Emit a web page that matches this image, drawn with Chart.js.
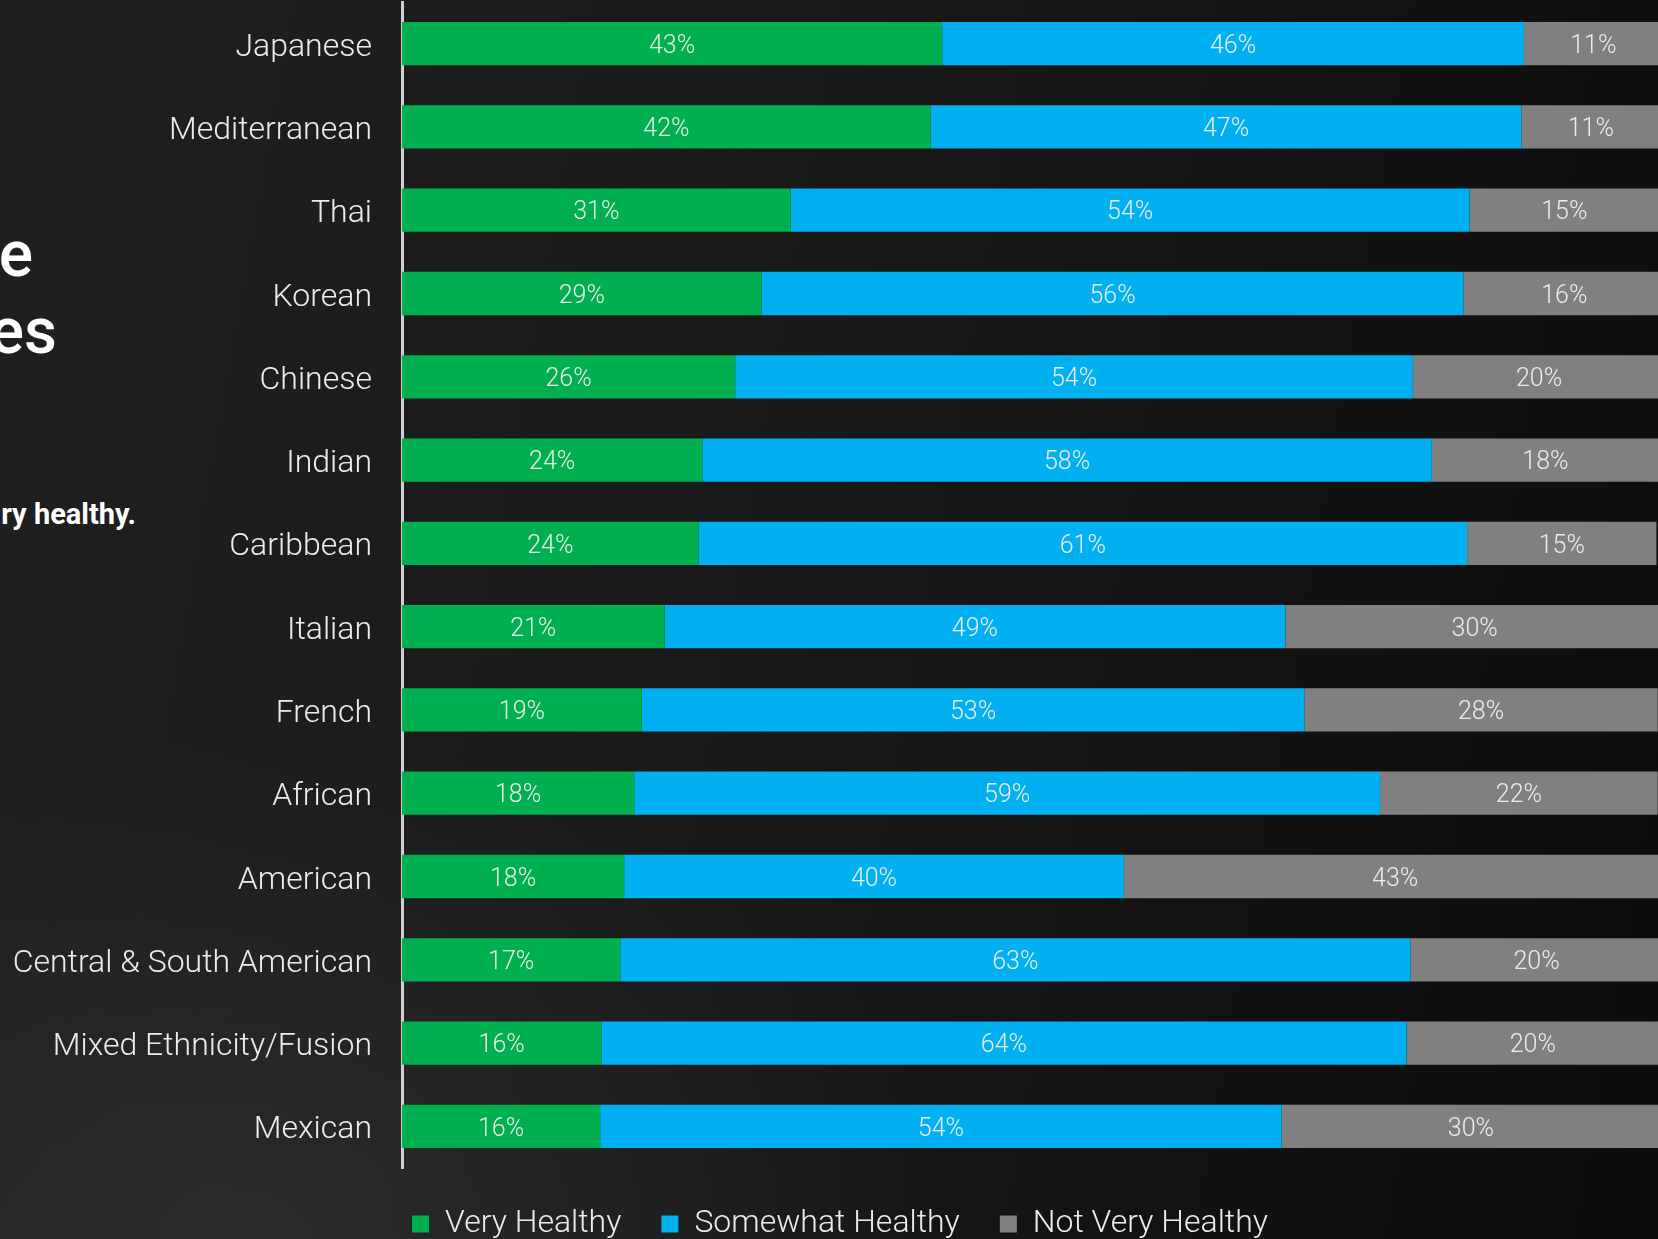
<!DOCTYPE html>
<html lang="en">
<head>
  <meta charset="UTF-8">
  <title>Cuisine healthiness</title>
  <script src="https://cdn.jsdelivr.net/npm/chart.js"></script>
  <style>
    html, body {
      margin: 0;
      width: 1658px;
      height: 1239px;
      overflow: hidden;
    }
    body {
      position: relative;
      font-family: Roboto, "Noto Sans", sans-serif;
      background:
        radial-gradient(ellipse 700px 500px at 15% 100%, rgba(55, 55, 55, 0.55), rgba(0, 0, 0, 0) 100%),
        linear-gradient(100deg, #202020 0%, #1a1a1a 40%, #0c0c0c 100%);
    }
    .frag {
      position: absolute;
      color: #fff;
      white-space: nowrap;
      line-height: 1;
      text-align: right;
    }
    #wrap {
      position: absolute;
      left: 0;
      top: 0;
    }
  </style>
</head>
<body>

<!-- the slide title is cut off on the left, only its tail shows -->
<div class="frag" style="right: calc(100% - 33px); top: 223px; font-size: 64px; font-weight: 500;">e</div>
<div class="frag" style="right: calc(100% - 57px); top: 300px; font-size: 64px; font-weight: 500;">es</div>
<div class="frag" style="right: calc(100% - 136px); top: 500px; font-size: 29px; font-weight: 700;">ry healthy.</div>

<div id="wrap">
  <canvas id="myChart" width="1664" height="1250"></canvas>
</div>

<script>
  const cuisines = ['Japanese', 'Mediterranean', 'Thai', 'Korean', 'Chinese', 'Indian', 'Caribbean',
    'Italian', 'French', 'African', 'American', 'Central & South American', 'Mixed Ethnicity/Fusion', 'Mexican'];
  // bar lengths, labels show them rounded
  const veryHealthy     = [42.8, 41.9, 30.8, 28.5, 26.4, 23.8, 23.5, 20.8, 19.0, 18.4, 17.6, 17.3, 15.8, 15.7];
  const somewhatHealthy = [46.1, 46.8, 53.8, 55.6, 53.7, 57.8, 60.9, 49.2, 52.5, 59.1, 39.6, 62.6, 63.8, 54.0];
  const notVeryHealthy  = [11, 11, 15, 16, 20, 18, 15, 30, 28, 22, 43, 20, 20, 30];

  const textColor = '#ececec';

  // percent labels in the middle of each segment
  const barLabels = {
    id: 'barLabels',
    afterLayout(chart) {
      // legend sits a little right of centre in the slide
      chart.legend.left += 8;
      chart.legend.right += 8;
    },
    afterDatasetsDraw(chart) {
      const ctx = chart.ctx;
      ctx.save();
      ctx.font = '300 25px Roboto, "Noto Sans", sans-serif';
      ctx.fillStyle = textColor;
      ctx.textAlign = 'center';
      ctx.textBaseline = 'middle';
      chart.data.datasets.forEach(function (ds, i) {
        chart.getDatasetMeta(i).data.forEach(function (bar, j) {
          ctx.fillText(Math.round(ds.data[j]) + '%', (bar.x + bar.base) / 2, bar.y + 3);
        });
      });
      ctx.restore();
    }
  };

  let ctx = document.getElementById('myChart').getContext('2d');
  let myChart = new Chart(ctx, {
    type: 'bar',
    data: {
      labels: cuisines,
      datasets: [
        { label: 'Very Healthy', data: veryHealthy, backgroundColor: '#00b050' },
        { label: 'Somewhat Healthy', data: somewhatHealthy, backgroundColor: '#00b0f0' },
        { label: 'Not Very Healthy', data: notVeryHealthy, backgroundColor: '#808080' }
      ]
    },
    options: {
      indexAxis: 'y',
      responsive: false,
      animation: false,
      layout: { padding: { top: 2, left: 0, right: 0, bottom: 0 } },
      datasets: {
        bar: { barPercentage: 0.52, categoryPercentage: 1, borderWidth: 0 }
      },
      scales: {
        x: {
          stacked: true,
          display: false,
          min: 0,
          max: 100
        },
        y: {
          stacked: true,
          afterFit: function (scale) {
            scale.width = 402;
            scale.paddingTop = 0;
            scale.paddingBottom = 0;
          },
          grid: { display: false, drawTicks: false },
          border: { display: true, color: '#d0d0d0', width: 3 },
          ticks: {
            color: textColor,
            padding: 30,
            labelOffset: 4,
            font: { family: 'Roboto', size: 32, weight: '300' }
          }
        }
      },
      plugins: {
        tooltip: { enabled: false },
        legend: {
          position: 'bottom',
          labels: {
            color: textColor,
            boxWidth: 17,
            boxHeight: 17,
            padding: 40,
            font: { family: 'Roboto', size: 32, weight: '300' }
          }
        }
      }
    },
    plugins: [barLabels]
  });
</script>

</body>
</html>
